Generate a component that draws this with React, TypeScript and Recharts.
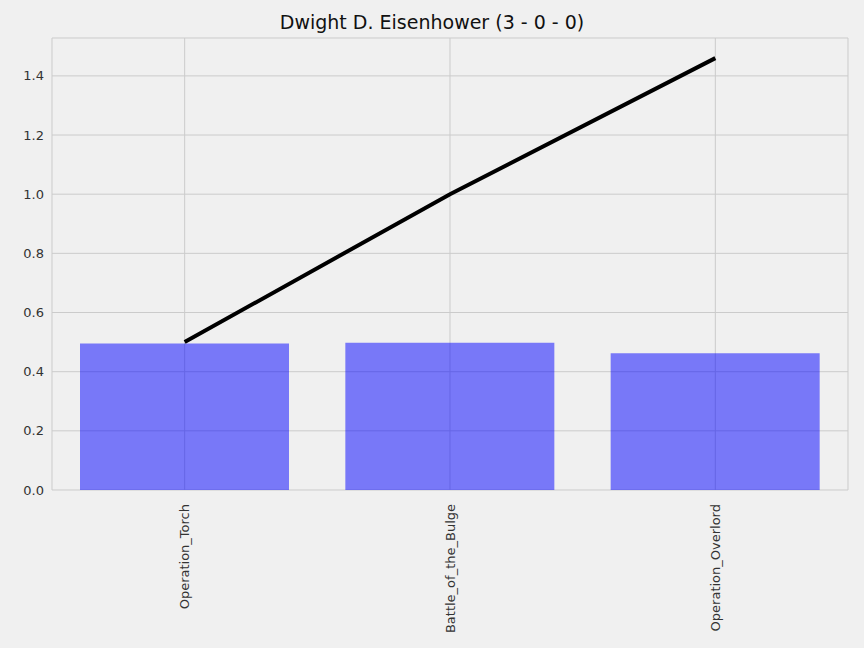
import { ComposedChart, Bar, Line, XAxis, YAxis, CartesianGrid } from 'recharts';

const battles = ['Operation_Torch', 'Battle_of_the_Bulge', 'Operation_Overlord'];
const barValues = [0.495, 0.498, 0.462];
const lineValues = [0.5, 1.0, 1.46];
const yTicks = [0, 0.2, 0.4, 0.6, 0.8, 1.0, 1.2, 1.4];

const data = battles.map((name, i) => ({ name, bar: barValues[i], line: lineValues[i] }));

const font = '"DejaVu Sans", sans-serif';

function XTick({ x, y, payload }: any) {
    return (
        <text x={x} y={y + 6} transform={`rotate(-90 ${x} ${y + 6})`} textAnchor="end" dominantBaseline="central"
            fill="#333" fontSize={13} fontFamily={font}>
            {payload.value}
        </text>
    );
}

export default function App() {
    return (
        <div style={{ position: 'absolute', left: 0, top: 0, width: 864, height: 648, background: '#f0f0f0' }}>
            <div style={{ position: 'absolute', top: 11, width: 864, textAlign: 'center', fontFamily: font, fontSize: 19, color: '#111' }}>
                Dwight D. Eisenhower (3 - 0 - 0)
            </div>
            <ComposedChart width={864} height={648} data={data} margin={{ top: 38, right: 16, left: 8, bottom: 0 }}>
                <CartesianGrid stroke="#cbcbcb" strokeWidth={1} />
                <XAxis dataKey="name" height={158} tick={<XTick />} tickLine={false} axisLine={false} interval={0} />
                <YAxis width={44} domain={[0, 1.528]} ticks={yTicks} tickFormatter={(v: number) => v.toFixed(1)}
                    tick={{ fill: '#333', fontSize: 13, fontFamily: font }} tickLine={false} axisLine={false} allowDataOverflow />
                <Bar dataKey="bar" fill="#0000ff" fillOpacity={0.5} barSize={209} isAnimationActive={false} />
                <Line dataKey="line" stroke="#000" strokeWidth={4} dot={false} type="linear" isAnimationActive={false} />
            </ComposedChart>
        </div>
    );
}
